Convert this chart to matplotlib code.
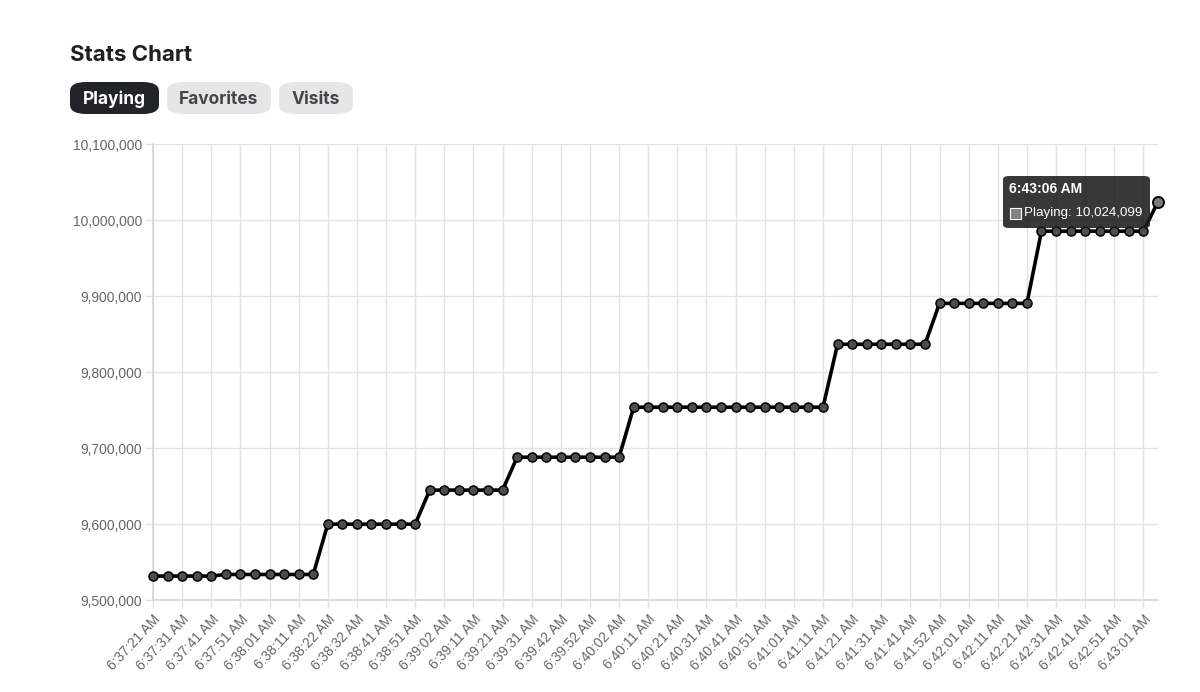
import numpy as np
import matplotlib.pyplot as plt
from matplotlib.patches import FancyBboxPatch, Rectangle
from matplotlib.ticker import FuncFormatter

# data
times = [
    "6:37:21 AM", "6:37:26 AM", "6:37:31 AM", "6:37:36 AM", "6:37:41 AM", "6:37:46 AM",
    "6:37:51 AM", "6:37:56 AM", "6:38:01 AM", "6:38:06 AM", "6:38:11 AM", "6:38:16 AM",
    "6:38:22 AM", "6:38:27 AM", "6:38:32 AM", "6:38:36 AM", "6:38:41 AM", "6:38:46 AM",
    "6:38:51 AM", "6:38:56 AM", "6:39:02 AM", "6:39:06 AM", "6:39:11 AM", "6:39:16 AM",
    "6:39:21 AM", "6:39:26 AM", "6:39:31 AM", "6:39:36 AM", "6:39:42 AM", "6:39:47 AM",
    "6:39:52 AM", "6:39:57 AM", "6:40:02 AM", "6:40:06 AM", "6:40:11 AM", "6:40:16 AM",
    "6:40:21 AM", "6:40:26 AM", "6:40:31 AM", "6:40:36 AM", "6:40:41 AM", "6:40:46 AM",
    "6:40:51 AM", "6:40:56 AM", "6:41:01 AM", "6:41:06 AM", "6:41:11 AM", "6:41:16 AM",
    "6:41:21 AM", "6:41:26 AM", "6:41:31 AM", "6:41:36 AM", "6:41:41 AM", "6:41:47 AM",
    "6:41:52 AM", "6:41:56 AM", "6:42:01 AM", "6:42:06 AM", "6:42:11 AM", "6:42:16 AM",
    "6:42:21 AM", "6:42:26 AM", "6:42:31 AM", "6:42:36 AM", "6:42:41 AM", "6:42:46 AM",
    "6:42:51 AM", "6:42:56 AM", "6:43:01 AM", "6:43:06 AM",
]
playing = (
    [9531500] * 5 + [9533600] * 7 + [9599800] * 7 + [9644600] * 6 + [9687900] * 8
    + [9753700] * 14 + [9836500] * 7 + [9890300] * 7 + [9985300] * 8 + [10024099]
)
buttons = ["Playing", "Favorites", "Visits"]
yticks = [9500000, 9600000, 9700000, 9800000, 9900000, 10000000, 10100000]

W, H = 1200, 692
fig = plt.figure(figsize=(W / 100, H / 100), dpi=100)
plt.rcParams['font.family'] = ['Liberation Sans', 'DejaVu Sans']

def fx(px):
    return px / W

def fy(py):
    return 1 - py / H

# title and buttons
fig.text(fx(70), fy(61), "Stats Chart", fontsize=16, fontweight='bold',
         family=['Inter', 'DejaVu Sans'], color='#1f1f1f', va='baseline', ha='left')
btn_x = [70, 167, 279]
btn_w = [89, 104, 74]
for i, (name, bx, bw) in enumerate(zip(buttons, btn_x, btn_w)):
    active = i == 0
    fig.patches.append(FancyBboxPatch((fx(bx), fy(114)), fx(bw), 32 / H,
                                      boxstyle="round,pad=0,rounding_size=0.0135",
                                      transform=fig.transFigure,
                                      facecolor='#232428' if active else '#e6e6e7',
                                      edgecolor='none'))
    fig.text(fx(bx + bw / 2), fy(104), name, fontsize=12.5, fontweight='bold',
             family=['Inter', 'DejaVu Sans'],
             color='white' if active else '#45464b', ha='center', va='baseline')

# chart area
ax = fig.add_axes([fx(153), fy(600), fx(1158 - 153), (600 - 144) / H])
x = np.arange(len(times))
ax.plot(x, playing, color='black', linewidth=2.6, zorder=3, clip_on=False)
ax.plot(x[:-1], playing[:-1], linestyle='none', marker='o', markersize=6.5,
        markerfacecolor='#4d4d4d', markeredgecolor='black', markeredgewidth=1.1,
        zorder=4, clip_on=False)
ax.plot(x[-1:], playing[-1:], linestyle='none', marker='o', markersize=8,
        markerfacecolor='#7a7a7a', markeredgecolor='black', markeredgewidth=1.3,
        zorder=4, clip_on=False)

ax.set_xlim(0, len(times) - 1)
ax.set_ylim(9500000, 10100000)
ax.set_yticks(yticks)
ax.yaxis.set_major_formatter(FuncFormatter(lambda v, p: f"{int(v):,}"))
tick_idx = x[::2][:35]
ax.set_xticks(tick_idx)
ax.set_xticklabels([times[i] for i in tick_idx], rotation=47, ha='right',
                   rotation_mode='anchor')
ax.tick_params(axis='both', colors='#e3e3e3', labelcolor='#666666', labelsize=10,
               length=6, width=1)
ax.tick_params(axis='x', pad=3)
ax.tick_params(axis='y', pad=2)
ax.grid(True, color='#e3e3e3', linewidth=1)
ax.set_axisbelow(True)
for s in ['top', 'right']:
    ax.spines[s].set_visible(False)
for s in ['left', 'bottom']:
    ax.spines[s].set_color('#d6d6d6')
    ax.spines[s].set_linewidth(1.2)

# tooltip
fig.patches.append(FancyBboxPatch((fx(1003), fy(228)), fx(147), 52 / H,
                                  boxstyle="round,pad=0,rounding_size=0.005",
                                  transform=fig.transFigure,
                                  facecolor='#1c1c1c', alpha=0.88,
                                  edgecolor='none', zorder=10))
fig.text(fx(1009), fy(189), times[-1], fontsize=10, fontweight='bold',
         color='white', ha='left', va='center', zorder=11)
fig.patches.append(Rectangle((fx(1010), fy(219)), fx(11), 11 / H,
                             transform=fig.transFigure, facecolor='#808080',
                             edgecolor='white', linewidth=0.8, zorder=11))
fig.text(fx(1024), fy(213), f"Playing: {playing[-1]:,}", fontsize=9.6,
         color='white', ha='left', va='center', zorder=11)

fig.savefig("out.png", dpi=100)
